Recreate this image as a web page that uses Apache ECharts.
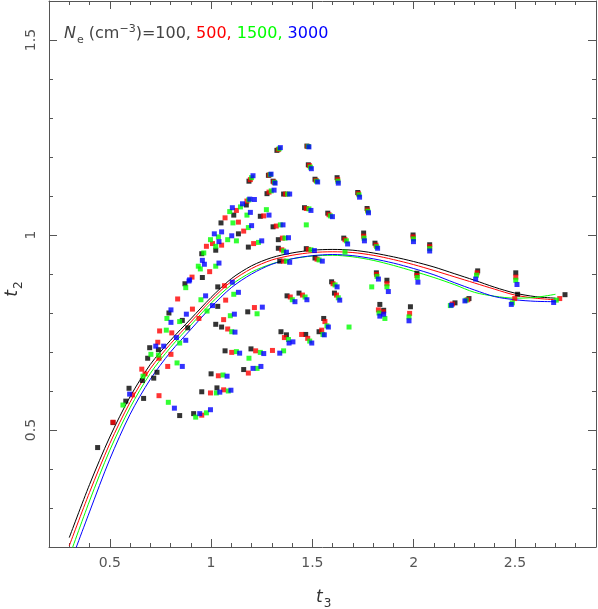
<!DOCTYPE html>
<html><head><meta charset="utf-8">
<script src="https://cdn.jsdelivr.net/npm/echarts@6/dist/echarts.min.js"></script>
<style>html,body{margin:0;padding:0;background:#fff}#c{width:598px;height:609px}</style>
</head><body><div id="c"></div>
<script>
// ---- data ----
const densityLabels = ['100', '500', '1500', '3000'];
const seriesColors = ['#000000', '#ff0000', '#00ff00', '#0000ff'];
const xMajorTicks = [0.5, 1, 1.5, 2, 2.5];
const yMajorTicks = [0.5, 1, 1.5];

const curveT3 = [0.3,0.4,0.5,0.6,0.7,0.8,0.9,1.0,1.1,1.2,1.3,1.4,1.5,1.6,1.7,1.8,1.9,2.0,2.1,2.2,2.3,2.4,2.5,2.6,2.7];
const curve100  = [0.224,0.360,0.482,0.585,0.668,0.730,0.785,0.840,0.888,0.921,0.942,0.954,0.961,0.963,0.961,0.954,0.944,0.932,0.918,0.901,0.884,0.866,0.851,0.842,0.838];
const curve500  = [0.203,0.340,0.465,0.571,0.657,0.721,0.777,0.833,0.881,0.914,0.936,0.948,0.955,0.957,0.955,0.948,0.937,0.924,0.909,0.893,0.877,0.861,0.846,0.838,0.834];
const curve1500 = [0.175,0.318,0.448,0.557,0.645,0.712,0.769,0.825,0.872,0.905,0.926,0.939,0.946,0.948,0.944,0.935,0.922,0.907,0.891,0.873,0.853,0.843,0.838,0.840,0.848];
const curve3000 = [0.151,0.290,0.425,0.540,0.630,0.700,0.758,0.815,0.865,0.900,0.925,0.939,0.947,0.950,0.947,0.939,0.928,0.914,0.898,0.878,0.859,0.842,0.834,0.830,0.829];

const pts100 = [
[1.325,1.217],[1.187,1.138],[1.283,1.153],[1.306,1.138],[1.276,1.106],[1.358,1.105],[1.174,1.077],[1.112,1.051],[1.243,1.048],[1.049,1.031],[1.306,1.021],[1.135,1.003],[0.954,0.952],[1.023,0.961],[1.184,0.969],[1.332,0.988],[1.332,0.966],[1.339,0.933],[0.957,0.891],
[1.473,1.228],[1.480,1.180],[1.513,1.143],[1.622,1.147],[1.724,1.109],[1.770,1.068],[1.461,1.070],[1.576,1.056],[1.655,0.992],[1.753,1.005],[1.809,0.979],[1.997,1.000],[2.079,0.975],[1.470,0.965],[1.513,0.941],[1.816,0.903],
[2.016,0.902],[2.316,0.908],[2.504,0.903],[2.513,0.848],[2.747,0.847],[2.273,0.837],[2.204,0.826],[1.984,0.816],
[1.375,0.844],[1.434,0.851],[1.609,0.851],[1.595,0.880],[1.868,0.884],[1.833,0.822],[1.852,0.807],[1.556,0.786],[1.533,0.752],[1.345,0.752],[1.372,0.744],[1.467,0.745],
[0.871,0.875],[1.033,0.867],[1.181,0.803],[1.033,0.817],[0.792,0.800],[0.858,0.781],[1.023,0.771],[1.052,0.764],[0.885,0.762],[0.697,0.711],[0.740,0.706],[0.687,0.684],[1.069,0.703],[1.197,0.708],[0.733,0.648],[0.661,0.627],[0.717,0.633],[1.161,0.655],[1.000,0.644],[0.595,0.607],[0.667,0.581],[0.579,0.574],[0.954,0.598],[1.029,0.608],[0.845,0.537],[0.914,0.542],[0.516,0.519],[0.440,0.455]
];
const pts500 = [
[1.332,1.219],[1.194,1.142],[1.287,1.154],[1.309,1.136],[1.286,1.110],[1.368,1.105],[1.177,1.087],[1.125,1.063],[1.260,1.049],[1.069,1.044],[1.135,1.033],[1.322,1.023],[1.161,1.010],[1.007,0.978],[1.052,0.974],[0.977,0.971],[1.210,0.978],[1.352,0.992],[1.349,0.962],[1.358,0.933],[0.993,0.906],[0.906,0.892],
[1.477,1.227],[1.485,1.178],[1.518,1.140],[1.625,1.142],[1.727,1.106],[1.772,1.064],[1.470,1.068],[1.582,1.052],[1.661,0.988],[1.753,0.997],[1.814,0.974],[1.997,0.995],[2.079,0.970],[1.480,0.963],[1.523,0.938],[1.817,0.899],
[2.016,0.896],[2.313,0.903],[2.504,0.892],[2.499,0.837],[2.721,0.837],[2.267,0.834],[2.191,0.823],[1.980,0.799],
[1.391,0.841],[1.451,0.846],[1.619,0.846],[1.602,0.875],[1.868,0.875],[1.826,0.808],[1.850,0.803],[1.562,0.778],[1.546,0.756],[1.362,0.737],[1.447,0.745],[1.477,0.735],[1.303,0.704],
[1.066,0.870],[0.835,0.836],[1.072,0.833],[1.214,0.814],[0.908,0.810],[0.940,0.786],[1.062,0.783],[1.082,0.759],[0.746,0.754],[0.806,0.749],[0.737,0.725],[0.743,0.684],[0.802,0.694],[0.786,0.663],[1.102,0.699],[1.220,0.703],[0.658,0.656],[0.674,0.644],[1.184,0.646],[1.036,0.639],[0.612,0.590],[0.997,0.595],[1.062,0.603],[0.743,0.588],[0.954,0.538],[0.516,0.520]
];
const pts1500 = [
[1.336,1.221],[1.200,1.147],[1.292,1.155],[1.313,1.135],[1.297,1.113],[1.378,1.105],[1.186,1.090],[1.145,1.072],[1.092,1.060],[1.273,1.065],[1.177,1.051],[1.108,1.031],[1.342,1.026],[1.184,1.019],[1.036,0.995],[0.997,0.988],[1.023,0.971],[1.082,0.988],[1.125,0.985],[0.964,0.954],[1.234,0.981],[1.365,0.992],[1.358,0.959],[1.372,0.933],[0.937,0.920],[0.947,0.913],[1.023,0.920],
[1.480,1.227],[1.490,1.174],[1.521,1.138],[1.626,1.138],[1.730,1.103],[1.774,1.061],[1.483,1.067],[1.589,1.049],[1.470,1.026],[1.668,0.985],[1.755,0.992],[1.817,0.970],[1.999,0.990],[2.079,0.965],[1.493,0.962],[1.533,0.936],[1.661,0.956],[1.819,0.894],
[2.018,0.891],[2.310,0.897],[2.504,0.884],[2.487,0.826],[2.704,0.833],[2.259,0.833],[2.181,0.819],[1.977,0.790],
[1.401,0.834],[1.464,0.841],[1.628,0.839],[1.612,0.872],[1.793,0.867],[1.868,0.867],[1.829,0.800],[1.858,0.786],[1.572,0.767],[1.552,0.745],[1.681,0.764],[1.382,0.732],[1.487,0.728],[1.358,0.703],
[0.875,0.865],[0.950,0.834],[1.112,0.848],[1.227,0.798],[0.980,0.805],[0.782,0.786],[1.095,0.793],[0.845,0.778],[1.102,0.752],[0.779,0.756],[0.845,0.723],[0.703,0.694],[0.740,0.692],[0.832,0.672],[1.125,0.701],[1.243,0.699],[0.664,0.638],[1.187,0.684],[1.227,0.658],[1.059,0.641],[0.565,0.564],[1.026,0.595],[1.085,0.600],[0.789,0.571],[0.924,0.533],[0.977,0.544]
];
const pts3000 = [
[1.342,1.224],[1.207,1.152],[1.296,1.156],[1.316,1.133],[1.311,1.115],[1.388,1.105],[1.191,1.092],[1.155,1.080],[1.214,1.091],[1.105,1.070],[1.286,1.051],[1.194,1.058],[1.355,1.026],[1.200,1.024],[1.102,0.998],[1.016,1.003],[1.052,1.008],[1.039,0.983],[1.250,0.985],[1.382,0.993],[1.372,0.956],[1.388,0.930],[0.967,0.925],[0.957,0.935],[1.039,0.928],[0.894,0.885],
[1.483,1.226],[1.495,1.170],[1.526,1.136],[1.628,1.133],[1.733,1.097],[1.777,1.057],[1.493,1.063],[1.599,1.047],[1.674,0.977],[1.757,0.985],[1.822,0.966],[1.999,0.983],[2.079,0.959],[1.510,0.960],[1.549,0.933],[1.826,0.887],
[2.021,0.879],[2.306,0.887],[2.510,0.873],[2.482,0.822],[2.691,0.827],[2.253,0.831],[2.186,0.820],[1.977,0.780],
[1.414,0.829],[1.473,0.834],[1.635,0.833],[1.622,0.867],[1.875,0.855],[1.833,0.792],[1.852,0.797],[1.579,0.764],[1.559,0.744],[1.404,0.726],[1.385,0.723],[1.497,0.723],[1.339,0.697],
[0.891,0.882],[1.105,0.879],[0.973,0.844],[1.135,0.853],[1.253,0.815],[1.007,0.819],[0.802,0.808],[0.878,0.797],[0.802,0.776],[1.115,0.797],[1.118,0.751],[0.829,0.737],[0.875,0.730],[0.727,0.715],[0.766,0.715],[0.858,0.663],[1.141,0.697],[1.260,0.696],[1.207,0.658],[1.246,0.663],[1.079,0.638],[0.598,0.592],[1.043,0.597],[1.098,0.602],[0.819,0.556],[0.944,0.542],[0.997,0.552]
];

// ---- chart ----
const curves = [curve100, curve500, curve1500, curve3000];
const points = [pts100, pts500, pts1500, pts3000];
const axisColor = '#555';
const font = 'DejaVu Sans';

function minorAxis(pos, isX) {
  return {
    type: 'value', position: pos, min: isX ? 0.2 : 0.2, max: isX ? 2.9 : 1.6, interval: 0.1,
    axisLine: { show: true, onZero: false, lineStyle: { color: axisColor, width: 1 } },
    axisTick: { show: true, inside: true, length: 4, lineStyle: { color: axisColor, width: 1 } },
    axisLabel: { show: false }, splitLine: { show: false }
  };
}
function majorAxis(pos, isX, showLabels) {
  const ticks = isX ? xMajorTicks : yMajorTicks;
  return {
    type: 'value', position: pos, min: 0.2, max: isX ? 2.9 : 1.6, interval: 0.1,
    axisLine: { show: false, onZero: false },
    axisTick: { show: true, inside: true, length: 8, customValues: ticks, lineStyle: { color: axisColor, width: 1 } },
    axisLabel: showLabels ? {
      show: true, customValues: ticks, color: '#555', fontFamily: font, fontSize: 14,
      margin: isX ? 9 : 11, rotate: isX ? 0 : 90
    } : { show: false },
    splitLine: { show: false }
  };
}

const series = [];
curves.forEach((c, i) => {
  series.push({
    type: 'line', xAxisIndex: 0, yAxisIndex: 0, showSymbol: false, smooth: 0.3,
    data: curveT3.map((t, k) => [t, c[k]]),
    lineStyle: { color: seriesColors[i], width: 1 }, z: 2, silent: true
  });
});
points.forEach((p, i) => {
  series.push({
    type: 'scatter', xAxisIndex: 0, yAxisIndex: 0, symbol: 'rect', symbolSize: 5,
    data: p, itemStyle: { color: seriesColors[i] }, z: 3 + i, silent: true
  });
});

const chart = echarts.init(document.getElementById('c'), null, { renderer: 'canvas' });
chart.setOption({
  animation: false,
  backgroundColor: '#fff',
  grid: { left: 49, top: 1, right: 2, bottom: 62, containLabel: false, outerBoundsMode: 'none' },
  xAxis: [minorAxis('bottom', true), majorAxis('bottom', true, true), minorAxis('top', true), majorAxis('top', true, false)],
  yAxis: [minorAxis('left', false), majorAxis('left', false, true), minorAxis('right', false), majorAxis('right', false, false)],
  series: series,
  graphic: [
    {
      type: 'text', x: 64, y: 34,
      style: {
        text: '{n|N}{sub|e}{p| (cm}{sup|\u22123}{p|)=' + densityLabels[0] + ', }{r|' + densityLabels[1] + ', }{g|' + densityLabels[2] + ', }{b|' + densityLabels[3] + '}',
        verticalAlign: 'middle', align: 'left',
        rich: {
          n: { fontFamily: font, fontSize: 16, fontStyle: 'italic', fill: '#444' },
          sub: { fontFamily: font, fontSize: 11, fill: '#444', padding: [12, 0, 0, 1] },
          sup: { fontFamily: font, fontSize: 11, fill: '#444', padding: [0, 0, 10, 0] },
          p: { fontFamily: font, fontSize: 16, fill: '#444' },
          r: { fontFamily: font, fontSize: 16, fill: seriesColors[1] },
          g: { fontFamily: font, fontSize: 16, fill: seriesColors[2] },
          b: { fontFamily: font, fontSize: 16, fill: seriesColors[3] }
        }
      }
    },
    {
      type: 'text', x: 316, y: 598,
      style: {
        text: '{t|t}{s|3}', verticalAlign: 'middle', align: 'left',
        rich: {
          t: { fontFamily: font, fontSize: 17, fontStyle: 'italic', fill: '#333' },
          s: { fontFamily: font, fontSize: 12, fill: '#333', padding: [12, 0, 0, 1] }
        }
      }
    },
    {
      type: 'text', x: 13, y: 289, rotation: Math.PI / 2,
      style: {
        text: '{t|t}{s|2}', verticalAlign: 'middle', align: 'center',
        rich: {
          t: { fontFamily: font, fontSize: 17, fontStyle: 'italic', fill: '#333' },
          s: { fontFamily: font, fontSize: 12, fill: '#333', padding: [12, 0, 0, 1] }
        }
      }
    }
  ]
});
</script></body></html>
